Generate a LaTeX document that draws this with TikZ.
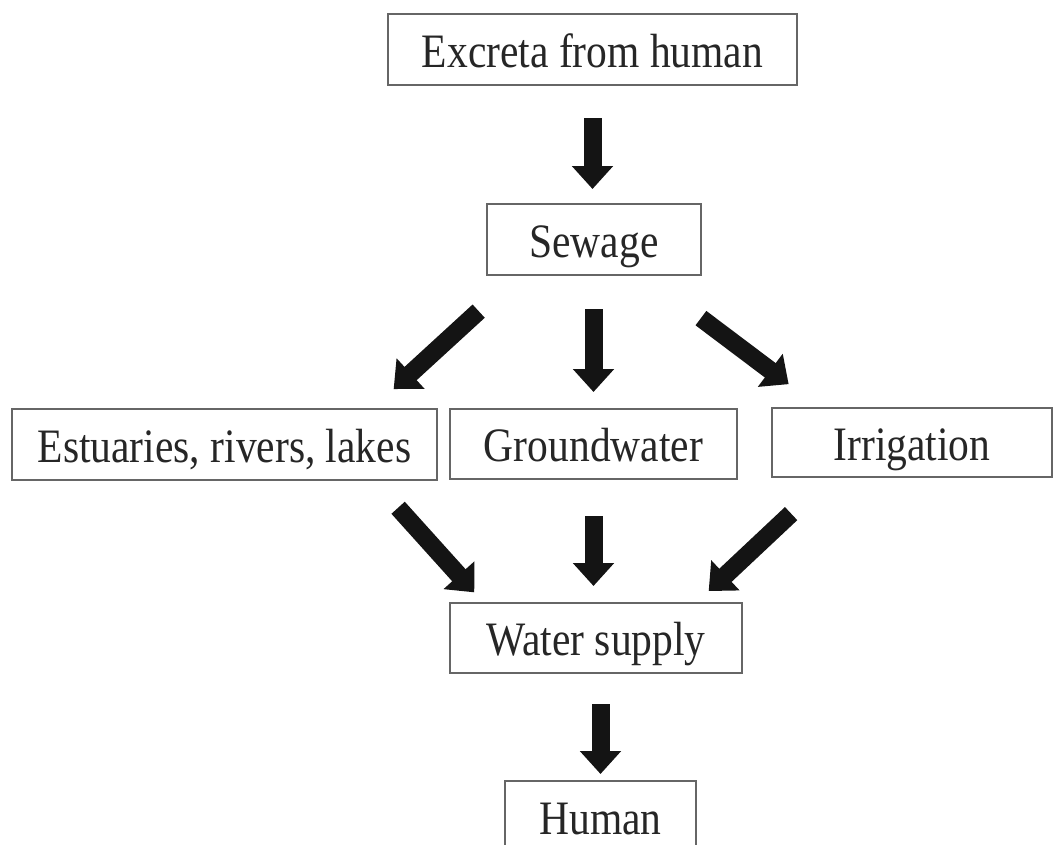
\documentclass[tikz,border=0pt]{standalone}
\usepackage{fontspec}
\setmainfont[FakeStretch=0.865]{Liberation Serif}
\usetikzlibrary{arrows.meta,calc}
\begin{document}
\begin{tikzpicture}[x=1pt, y=-1pt,
    box/.style={draw=black!60, line width=2pt, rectangle, inner sep=0pt, text=black!85,
      text height=40pt, text depth=5pt, font=\fontsize{48}{56}\selectfont},
    flow/.style={-{Triangle[width=40pt, length=23pt]}, line width=18pt, black!92}]
      \useasboundingbox (0,0) rectangle (1054,844);
      \clip (0,0) rectangle (1054,844);
      \node[box, minimum width=409pt, minimum height=71pt] (excreta)    at (592.5,49.5)  {Excreta from human};
      \node[box, minimum width=214pt, minimum height=71pt] (sewage)     at (594,239.5)   {Sewage};
      \node[box, minimum width=425pt, minimum height=71pt] (estuaries)  at (224.5,444.5) {Estuaries, rivers, lakes};
      \node[box, minimum width=287pt, minimum height=70pt] (ground)     at (593.5,444)   {Groundwater};
      \node[box, minimum width=280pt, minimum height=69pt] (irrigation) at (912,442.5)   {Irrigation};
      \node[box, minimum width=292pt, minimum height=70pt] (water)      at (596,638)     {Water supply};
      \node[box, minimum width=191pt, minimum height=71pt] (human)      at (600.5,816.5) {Human};
      \draw[flow, shorten <=32pt, shorten >=14pt] (excreta.south) -- (excreta.south |- sewage.north);
      \draw[flow, shorten <=52pt, shorten >=28pt] ($(sewage.south west)+(31,0)$) -- ($(estuaries.north east)+(-65,0)$);
      \draw[flow, shorten <=33pt, shorten >=16pt] (sewage.south -| ground.north) -- (ground.north);
      \draw[flow, shorten <=70pt, shorten >=38pt] ($(sewage.south east)+(-57,0)$) -- ($(irrigation.north west)+(48,0)$);
      \draw[flow, shorten <=36pt, shorten >=13pt] ($(estuaries.south east)+(-64,0)$) -- ($(water.north west)+(34,0)$);
      \draw[flow, shorten <=36pt, shorten >=16pt] (ground.south) -- (ground.south |- water.north);
      \draw[flow, shorten <=52pt, shorten >=16pt] ($(irrigation.south west)+(58,0)$) -- ($(water.north east)+(-46,0)$);
      \draw[flow, shorten <=30pt, shorten >=6pt] (human.north |- water.south) -- (human.north);
     \end{tikzpicture}
\end{document}
